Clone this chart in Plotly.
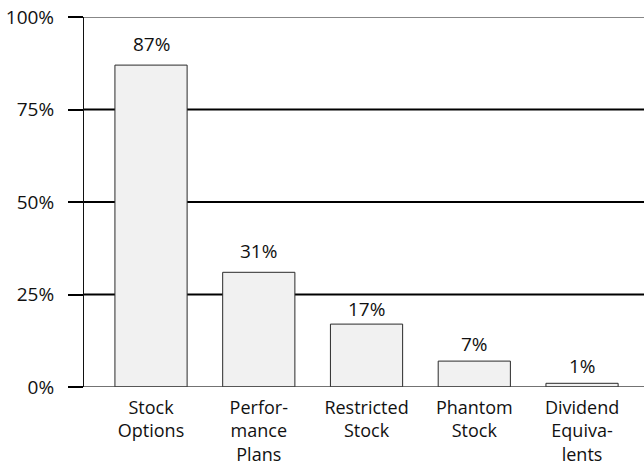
import plotly.graph_objects as go

# Share of companies using each long-term incentive vehicle
categories = ["Stock<br>Options", "Perfor-<br>mance<br>Plans", "Restricted<br>Stock",
              "Phantom<br>Stock", "Dividend<br>Equiva-<br>lents"]
values = [87, 31, 17, 7, 1]
tick_vals = [0, 25, 50, 75, 100]
tick_text = ["0%", "25%", "50%", "75%", "100%"]

# pixel lift of each value label above its bar
label_lift = [6, 6, 0, 2, 2]

FONT = dict(family="Open Sans, Noto Sans, sans-serif", size=19, color="#111111")
CAT_FONT = dict(family="Open Sans, Noto Sans, sans-serif", size=18, color="#111111")

fig = go.Figure()
fig.add_trace(go.Bar(
    x=list(range(len(categories))),
    y=values,
    width=0.67,
    marker=dict(color="#f1f1f1", line=dict(color="#2a2a2a", width=1)),
    hoverinfo="skip",
))

# value labels above each bar
for i, v in enumerate(values):
    fig.add_annotation(x=i, y=v, text=f"{v}%", showarrow=False,
                       yanchor="bottom", yshift=label_lift[i], font=FONT)

# horizontal reference lines behind the bars
for v in [25, 50, 75]:
    fig.add_shape(type="line", xref="paper", x0=0, x1=1, yref="y", y0=v, y1=v,
                  line=dict(color="#000000", width=2), layer="below")
fig.add_shape(type="line", xref="paper", x0=0, x1=1, yref="y", y0=100, y1=100,
              line=dict(color="#111111", width=1.2), layer="below")
fig.add_shape(type="line", xref="paper", x0=0, x1=1, yref="y", y0=0, y1=0,
              line=dict(color="#444444", width=1.5), layer="above")

fig.update_layout(
    width=644, height=468,
    margin=dict(l=84, r=0, t=17, b=81),
    plot_bgcolor="white", paper_bgcolor="white",
    showlegend=False, font=FONT,
    xaxis=dict(
        range=[-0.622, 4.575],
        tickvals=list(range(len(categories))), ticktext=categories,
        tickfont=CAT_FONT,
        showgrid=False, zeroline=False, showline=False, ticks="",
        ticklabelstandoff=8, automargin=False, fixedrange=True,
    ),
    yaxis=dict(
        range=[0, 100], tickvals=tick_vals, ticktext=tick_text,
        showgrid=False, zeroline=False,
        showline=True, linecolor="#111111", linewidth=1.2,
        ticks="outside", ticklen=15, tickwidth=2, tickcolor="#000000",
        ticklabelstandoff=10, automargin=False, fixedrange=True,
    ),
)

fig.write_html("out.html")
